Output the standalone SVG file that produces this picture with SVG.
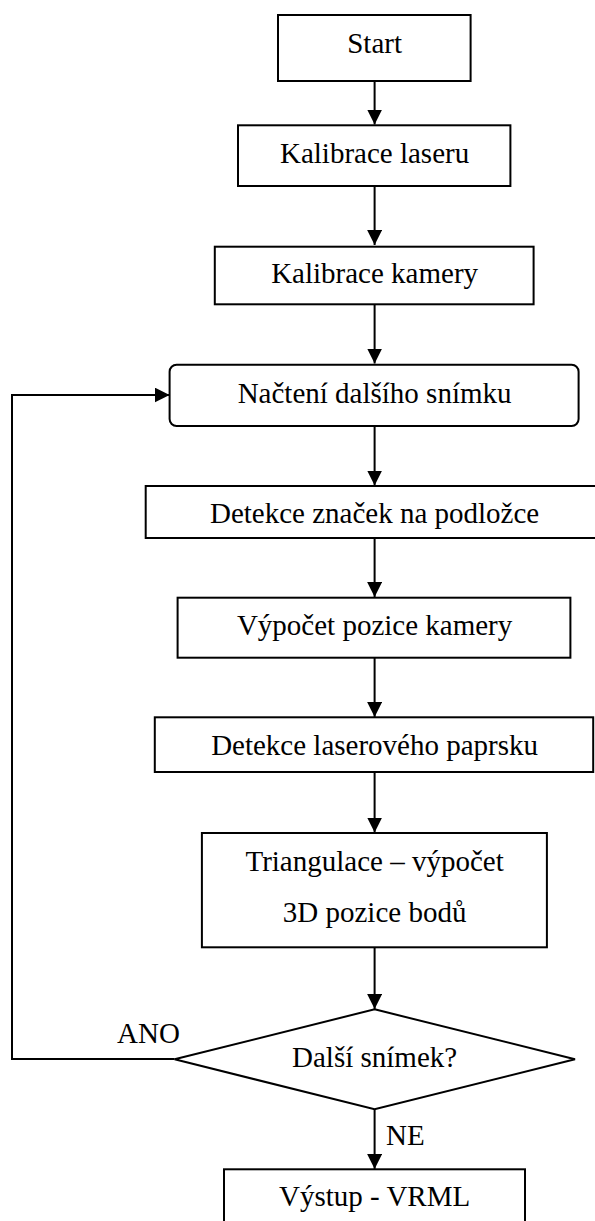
<svg xmlns="http://www.w3.org/2000/svg" width="595" height="1221" viewBox="0 0 595 1221">
<defs>
<style>
.box{fill:#fff;stroke:#000;stroke-width:2}
.t{font-family:"Liberation Serif","Times New Roman",serif;font-size:29px;fill:#000;text-anchor:middle}
.tl{font-family:"Liberation Serif","Times New Roman",serif;font-size:29px;fill:#000}
.c{fill:none;stroke:#000;stroke-width:2}
</style>
<marker id="ah" markerUnits="userSpaceOnUse" markerWidth="15" markerHeight="15" refX="15" refY="7.5" orient="auto">
<path d="M0,0 L15,7.5 L0,15 z" fill="#000"/>
</marker>
</defs>
<rect width="595" height="1221" fill="#fff"/>
<g id="connectors">
<line class="c" x1="374.6" y1="81" x2="374.6" y2="124.5" marker-end="url(#ah)"/>
<line class="c" x1="374.6" y1="186" x2="374.6" y2="245" marker-end="url(#ah)"/>
<line class="c" x1="374.6" y1="304" x2="374.6" y2="363.5" marker-end="url(#ah)"/>
<line class="c" x1="374.6" y1="426" x2="374.6" y2="485.5" marker-end="url(#ah)"/>
<line class="c" x1="374.6" y1="538" x2="374.6" y2="597" marker-end="url(#ah)"/>
<line class="c" x1="374.6" y1="658" x2="374.6" y2="717" marker-end="url(#ah)"/>
<line class="c" x1="374.6" y1="772" x2="374.6" y2="832.5" marker-end="url(#ah)"/>
<line class="c" x1="374.6" y1="947" x2="374.6" y2="1009" marker-end="url(#ah)"/>
<line class="c" x1="374.6" y1="1109" x2="374.6" y2="1169" marker-end="url(#ah)"/>
<path class="c" d="M174.6,1059 H12 V395 H169.6" marker-end="url(#ah)"/>
<text class="tl" x="117" y="1043">ANO</text>
<text class="tl" x="386" y="1145">NE</text>
</g>
<g id="start">
<rect class="box" x="278" y="15" width="192.6" height="66"/>
<text class="t" x="374.6" y="53">Start</text>
</g>
<g id="kal-laser">
<rect class="box" x="238" y="125.3" width="272.4" height="60.7"/>
<text class="t" x="374.6" y="163">Kalibrace laseru</text>
</g>
<g id="kal-kamera">
<rect class="box" x="214.8" y="246.7" width="318.8" height="57.6"/>
<text class="t" x="374.6" y="283">Kalibrace kamery</text>
</g>
<g id="nacteni">
<rect class="box" x="169.6" y="364.7" width="409" height="61.3" rx="7" ry="7"/>
<text class="t" x="374.6" y="403">Načtení dalšího snímku</text>
</g>
<g id="detekce-znacek">
<rect class="box" x="145.7" y="486" width="470" height="52"/>
<text class="t" x="374.6" y="522.5">Detekce značek na podložce</text>
</g>
<g id="vypocet">
<rect class="box" x="177.6" y="597.7" width="392.8" height="60"/>
<text class="t" x="374.6" y="635">Výpočet pozice kamery</text>
</g>
<g id="detekce-laser">
<rect class="box" x="154.8" y="717.3" width="438.4" height="54.7"/>
<text class="t" x="374.6" y="755">Detekce laserového paprsku</text>
</g>
<g id="triangulace">
<rect class="box" x="201.9" y="833" width="345" height="114.3"/>
<text class="t" x="374.6" y="870.7">Triangulace – výpočet</text>
<text class="t" x="374.6" y="921.7">3D pozice bodů</text>
</g>
<g id="dalsi">
<polygon class="box" points="374.6,1009.3 575,1059.3 374.6,1109.3 174.6,1059.3"/>
<text class="t" x="374.6" y="1066.7">Další snímek?</text>
</g>
<g id="vystup">
<rect class="box" x="224" y="1169.3" width="301" height="70"/>
<text class="t" x="374.6" y="1206">Výstup - VRML</text>
</g>
</svg>
